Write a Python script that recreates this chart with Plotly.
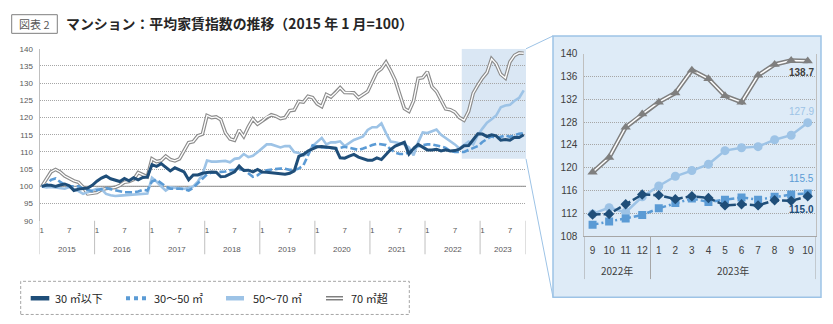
import plotly.graph_objects as go

W, H = 833, 324

# ---------------- data ----------------
years = [2015, 2016, 2017, 2018, 2019, 2020, 2021, 2022, 2023]
months_in_year = [12, 12, 12, 12, 12, 12, 12, 12, 10]
tick_months = [1, 7]

# 30㎡以下
s30_under = [
    100.0, 100.3, 100.3, 100.0, 100.4, 100.7, 100.2, 98.8, 99.2, 99.3, 99.5, 100.3,
    101.5, 102.4, 103.0, 102.2, 101.7, 101.4, 102.3, 101.6, 102.5, 101.9, 102.6, 102.7,
    106.3, 105.8, 106.6, 105.6, 104.5, 105.4, 104.9, 104.2, 101.9, 103.3, 103.3, 103.8,
    104.0, 104.2, 104.1, 102.8, 102.9, 103.5, 104.2, 105.9, 104.6, 104.7, 104.2, 104.9,
    104.2, 104.1, 103.9, 103.7, 103.5, 103.5, 103.8, 104.5, 108.7, 109.3, 110.3, 110.8,
    111.5, 111.6, 111.4, 111.3, 111.1, 108.3, 108.2, 108.8, 109.3, 108.5, 108.0, 107.6,
    107.6, 108.3, 107.8, 109.3, 110.7, 111.7, 112.2, 112.8, 109.4, 111.0, 112.2, 111.3,
    110.6, 110.6, 110.8, 110.3, 110.6, 110.3, 110.4, 110.8, 111.8, 111.9, 113.6, 115.3,
    115.2, 114.5, 115.0, 114.7, 113.4, 113.6, 113.4, 114.3, 114.2, 115.0,
]
# 30～50㎡
s30_50 = [
    100.0, 100.3, 101.9, 102.3, 101.3, 100.5, 100.0, 99.9, 100.0, 99.4, 98.9, 98.6,
    98.9, 99.2, 99.5, 99.2, 98.8, 98.6, 98.3, 98.2, 98.3, 98.5, 99.0, 98.8,
    101.4, 101.9, 100.9, 100.0, 99.3, 99.4, 99.3, 99.2, 98.8, 99.6, 100.9, 102.3,
    103.5, 104.0, 104.2, 104.2, 104.3, 104.7, 104.8, 105.0, 104.8, 103.8, 102.8, 103.2,
    104.2, 104.7, 104.9, 105.0, 105.2, 105.1, 104.8, 104.8, 105.2, 106.1, 108.9, 111.9,
    111.5, 111.4, 111.3, 111.1, 111.0, 111.2, 111.5, 111.2, 111.0, 110.6, 111.0, 111.6,
    112.0, 112.4, 112.3, 112.0, 110.8, 109.8, 109.4, 109.4, 109.9, 111.3, 111.7, 112.0,
    112.2, 112.2, 112.0, 111.6, 111.2, 110.3, 110.0, 109.9, 110.0, 110.6, 111.1, 111.7,
    112.9, 113.8, 114.6, 114.0, 114.4, 114.8, 114.4, 114.9, 115.3, 115.5,
]
# 50～70㎡
s50_70 = [
    100.0, 99.7, 99.8, 99.7, 99.6, 99.3, 99.8, 99.3, 98.6, 97.8, 98.3, 98.6,
    99.3, 99.2, 97.8, 97.4, 97.2, 97.3, 97.4, 97.5, 97.7, 97.9, 97.9, 97.9,
    102.5, 101.4, 100.0, 98.8, 99.7, 99.6, 99.5, 99.3, 99.5, 100.0, 101.4, 103.5,
    107.5, 107.2, 107.2, 107.3, 107.4, 107.0, 108.0, 108.2, 109.4, 108.5, 108.9, 109.9,
    111.0, 112.2, 112.2, 111.7, 111.3, 111.7, 111.7, 110.0, 109.7, 108.9, 109.7, 111.7,
    112.8, 114.1, 112.2, 112.8, 112.8, 113.1, 111.7, 112.5, 113.5, 114.0, 114.5, 116.4,
    117.2, 117.2, 118.3, 115.5, 113.0, 112.8, 112.6, 112.2, 111.3, 109.0, 112.8, 115.7,
    115.5, 116.0, 116.5, 115.0, 114.1, 113.1, 112.2, 111.0, 111.9, 113.0, 112.2, 114.9,
    116.8, 118.5, 119.5, 120.6, 123.0, 123.5, 123.7, 124.9, 125.7, 127.9,
]
# 70㎡超
s70_over = [
    100.0, 102.0, 104.2, 104.9, 104.2, 103.0, 102.3, 101.6, 101.2, 99.8, 97.8, 98.0,
    98.2, 99.0, 99.4, 99.5, 99.7, 100.3, 101.2, 101.4, 102.0, 104.0, 103.5, 102.8,
    108.0, 107.2, 107.5, 108.8, 107.8, 107.4, 108.0, 110.5, 112.7, 113.0, 114.7, 115.2,
    120.6, 120.0, 120.2, 119.4, 115.6, 113.8, 113.4, 116.4, 114.5, 117.3, 119.6, 118.1,
    119.0, 120.2, 120.8, 120.4, 119.7, 120.0, 122.0, 122.2, 124.7, 124.5, 126.2, 125.8,
    124.0, 123.2, 126.7, 126.0, 127.2, 128.7, 127.3, 127.3, 127.2, 125.8, 126.8, 127.6,
    130.4, 133.2, 134.2, 136.1, 133.7, 130.9, 126.7, 122.6, 121.8, 124.8, 131.4, 131.6,
    133.3, 129.0, 127.6, 124.8, 122.5, 122.3, 121.6, 120.0, 119.2, 121.8, 127.1, 129.4,
    131.5, 133.1, 137.1, 135.6, 132.6, 131.5, 136.2, 138.1, 138.8, 138.7,
]

series_names = ["30 ㎡以下", "30～50 ㎡", "50～70 ㎡", "70 ㎡超"]
zoom_start_year, zoom_start_month = 2022, 9
left_yrange = [90, 140]
right_yrange = [108, 140]

# ---------------- derived ----------------
point_year, point_month = [], []
for y, n in zip(years, months_in_year):
    for m in range(1, n + 1):
        point_year.append(y)
        point_month.append(m)
N = len(point_year)
idx = list(range(N))
z0 = [i for i in idx if point_year[i] == zoom_start_year and point_month[i] == zoom_start_month][0]
zidx = idx[z0:]

NAVY = "#1f4e79"
MID = "#5b9bd5"
LIGHT = "#9dc3e6"
GREY = "#7f7f7f"
LGREY = "#8c8c8c"
GRID = "#a6a6a6"
FONT = "Liberation Sans, Noto Sans CJK JP, sans-serif"
JFONT = "Noto Sans CJK JP, sans-serif"

# pixel layout
LX0, LX1, LY0, LY1 = 39.5, 526.0, 44.3, 222.3
RX0, RX1, RY0, RY1 = 584.3, 816.0, 49.3, 238.3
PX0, PY0, PX1, PY1 = 553.0, 31.0, 821.0, 301.5


def px(x):
    return x / W


def py(y):
    return 1 - y / H


fig = go.Figure()

# ---------------- left chart ----------------
fig.add_trace(go.Scatter(x=idx, y=s70_over, mode="lines", line=dict(color=LGREY, width=3.6),
                         xaxis="x", yaxis="y", showlegend=False, hoverinfo="skip"))
fig.add_trace(go.Scatter(x=idx, y=s70_over, mode="lines", line=dict(color="white", width=1.3),
                         xaxis="x", yaxis="y", showlegend=False, name=series_names[3]))
fig.add_trace(go.Scatter(x=idx, y=s50_70, mode="lines", line=dict(color=LIGHT, width=2.6),
                         xaxis="x", yaxis="y", showlegend=False, name=series_names[2]))
fig.add_trace(go.Scatter(x=idx, y=s30_50, mode="lines", line=dict(color=MID, width=2.6, dash="7px,3px"),
                         xaxis="x", yaxis="y", showlegend=False, name=series_names[1]))
fig.add_trace(go.Scatter(x=idx, y=s30_under, mode="lines", line=dict(color=NAVY, width=3),
                         xaxis="x", yaxis="y", showlegend=False, name=series_names[0]))

# ---------------- right chart ----------------
zs70 = s70_over[z0:]
zs50 = s50_70[z0:]
zs30_50 = s30_50[z0:]
zs30 = s30_under[z0:]
fig.add_trace(go.Scatter(x=zidx, y=zs70, mode="lines", line=dict(color=GREY, width=4.5),
                         xaxis="x2", yaxis="y2", showlegend=False, hoverinfo="skip"))
fig.add_trace(go.Scatter(x=zidx, y=zs70, mode="lines+markers", line=dict(color="white", width=1.5),
                         marker=dict(symbol="triangle-up", size=9, color=GREY),
                         xaxis="x2", yaxis="y2", showlegend=False, name=series_names[3]))
fig.add_trace(go.Scatter(x=zidx, y=zs50, mode="lines+markers", line=dict(color=LIGHT, width=2.5),
                         marker=dict(symbol="circle", size=9, color=LIGHT),
                         xaxis="x2", yaxis="y2", showlegend=False, name=series_names[2]))
fig.add_trace(go.Scatter(x=zidx, y=zs30_50, mode="lines+markers", line=dict(color=MID, width=2.5, dash="6px,3px,2px,3px"),
                         marker=dict(symbol="square", size=8, color=MID),
                         xaxis="x2", yaxis="y2", showlegend=False, name=series_names[1]))
fig.add_trace(go.Scatter(x=zidx, y=zs30, mode="lines+markers", line=dict(color=NAVY, width=2.5, dash="8px,3px"),
                         marker=dict(symbol="diamond", size=8, color=NAVY),
                         xaxis="x2", yaxis="y2", showlegend=False, name=series_names[0]))

shapes = []
annotations = []


def text(x, y, s, size, color, family=FONT, xref="paper", yref="paper", xanchor="center", **kw):
    annotations.append(dict(x=x, y=y, xref=xref, yref=yref, text=s, showarrow=False,
                            xanchor=xanchor, yanchor="middle",
                            font=dict(size=size, color=color, family=family), **kw))


# panel behind right chart
shapes.append(dict(type="rect", xref="paper", yref="paper", x0=px(PX0), x1=px(PX1), y0=py(PY1), y1=py(PY0),
                   fillcolor="#deebf7", line=dict(color=LIGHT, width=1.5), layer="below"))
# highlight on left chart
shapes.append(dict(type="rect", xref="x", yref="y", x0=z0 - 0.5, x1=N - 0.5,
                   y0=right_yrange[0], y1=right_yrange[1],
                   fillcolor="#dae7f4", line=dict(width=0), layer="below"))
# connecting lines
span = left_yrange[1] - left_yrange[0]
hl_bottom_px = LY0 + (left_yrange[1] - right_yrange[0]) / span * (LY1 - LY0)
hl_top_px = LY0 + (left_yrange[1] - right_yrange[1]) / span * (LY1 - LY0)
shapes.append(dict(type="line", xref="paper", yref="paper", x0=px(LX1), y0=py(hl_top_px), x1=px(PX0), y1=py(PY0),
                   line=dict(color=LIGHT, width=1)))
shapes.append(dict(type="line", xref="paper", yref="paper", x0=px(LX1), y0=py(hl_bottom_px), x1=px(PX0), y1=py(PY1),
                   line=dict(color=LIGHT, width=1)))
# solid 100 line
shapes.append(dict(type="line", xref="x", yref="y", x0=-0.5, x1=N - 0.5, y0=100, y1=100,
                   line=dict(color="#999999", width=1.2), layer="below"))

# year dividers + labels, left chart
start = 0
for y, n in zip(years, months_in_year):
    shapes.append(dict(type="line", xref="x", yref="paper", x0=start - 0.5, x1=start - 0.5,
                       y0=py(257), y1=py(LY1), line=dict(color="#bfbfbf", width=1)))
    text(start + (n - 1) / 2, py(252.3), str(y), 8, "#595959", xref="x")
    start += n
shapes.append(dict(type="line", xref="x", yref="paper", x0=start - 0.5, x1=start - 0.5,
                   y0=py(257), y1=py(LY1), line=dict(color="#bfbfbf", width=1)))

# year dividers + labels, right chart
zyears = []
for i in zidx:
    if point_year[i] not in zyears:
        zyears.append(point_year[i])
for y in zyears:
    members = [i for i in zidx if point_year[i] == y]
    shapes.append(dict(type="line", xref="x2", yref="paper", x0=members[0] - 0.5, x1=members[0] - 0.5,
                       y0=py(282.7), y1=py(RY1), line=dict(color=GRID, width=1)))
    text((members[0] + members[-1]) / 2, py(273.3), f"{y}年", 10, "#404040", family=JFONT, xref="x2")
shapes.append(dict(type="line", xref="x2", yref="paper", x0=N - 0.5, x1=N - 0.5,
                   y0=py(282.7), y1=py(RY1), line=dict(color=GRID, width=1)))

# right chart end labels
end_labels = [
    (zs70, "<b>%.1f</b>" % zs70[-1], "#404040", -11),
    (zs50, "%.1f" % zs50[-1], LIGHT, 11),
    (zs30_50, "%.1f" % zs30_50[-1], MID, 15),
    (zs30, "<b>%.1f</b>" % zs30[-1], NAVY, -13),
]
for vals, txt, col, ys in end_labels:
    text(zidx[-1], vals[-1], txt, 10, col, xref="x2", yref="y2", xanchor="right", xshift=8, yshift=ys)

# title
shapes.append(dict(type="rect", xref="paper", yref="paper", x0=px(11.7), x1=px(57.3), y0=py(28.3), y1=py(9),
                   line=dict(color="#7f7f7f", width=1)))
text(px(34.5), py(18.7), "図表 2", 11, "#595959", family=JFONT)
text(px(64), py(17.5), "<b>マンション：平均家賃指数の推移（2015 年 1 月=100）</b>", 13.9, "#262626",
     family=JFONT, xanchor="left")

# legend (manual)
LEG_Y = 302.5
shapes.append(dict(type="rect", xref="paper", yref="paper", x0=px(20.7), x1=px(409.3), y0=py(319.3), y1=py(285),
                   line=dict(color="#a6a6a6", width=1, dash="3px,2px")))
legend_items = [
    (30.7, 49.3, 52.7, dict(color=NAVY, width=4.5)),
    (126, 148, 152, dict(color=MID, width=4, dash="dot")),
    (226, 244, 250.7, dict(color=LIGHT, width=4.5)),
    (326, 343, 349, dict(color=GREY, width=4.5)),
]
for (a, b, t, ln), name in zip(legend_items, series_names):
    shapes.append(dict(type="line", xref="paper", yref="paper", x0=px(a), x1=px(b), y0=py(LEG_Y), y1=py(LEG_Y),
                       line=ln))
    text(px(t), py(LEG_Y), name, 11, "#262626", family=JFONT, xanchor="left")
shapes.append(dict(type="line", xref="paper", yref="paper", x0=px(326), x1=px(343), y0=py(LEG_Y), y1=py(LEG_Y),
                   line=dict(color="white", width=1.5)))

tickvals = [i for i in idx if point_month[i] in tick_months]
ticktext = [str(point_month[i]) for i in tickvals]

fig.update_layout(
    width=W, height=H, margin=dict(l=0, r=0, t=0, b=0),
    paper_bgcolor="white", plot_bgcolor="white",
    shapes=shapes, annotations=annotations,
    xaxis=dict(domain=[px(LX0), px(LX1)], range=[-0.5, N - 0.5], anchor="y",
               tickvals=tickvals, ticktext=ticktext, ticks="", showgrid=False, showline=False,
               zeroline=False, tickfont=dict(size=8, color="#595959", family=FONT), ticklabelstandoff=3),
    yaxis=dict(domain=[py(LY1), py(LY0)], range=left_yrange, anchor="x", dtick=5, tick0=90,
               showgrid=True, gridcolor=GRID, griddash="1px,1px", gridwidth=1.2,
               showline=True, linecolor="#bfbfbf", zeroline=False, ticks="",
               tickfont=dict(size=8, color="#595959", family=FONT), ticklabelstandoff=4),
    xaxis2=dict(domain=[px(RX0), px(RX1)], anchor="y2", range=[z0 - 0.5, N - 0.5],
                tickvals=zidx, ticktext=[str(point_month[i]) for i in zidx],
                showline=True, linecolor=GRID, showgrid=False, ticks="", zeroline=False,
                tickfont=dict(size=10, color="#404040", family=FONT), ticklabelstandoff=5),
    yaxis2=dict(domain=[py(RY1), py(RY0)], range=right_yrange, anchor="x2", dtick=4, tick0=108,
                showgrid=True, gridcolor=GRID, griddash="1px,1px", gridwidth=1.2,
                showline=True, mirror=True, linecolor="#bfbfbf", zeroline=False, ticks="",
                tickfont=dict(size=10, color="#404040", family=FONT), ticklabelstandoff=4),
)

fig.write_html("out.html")
